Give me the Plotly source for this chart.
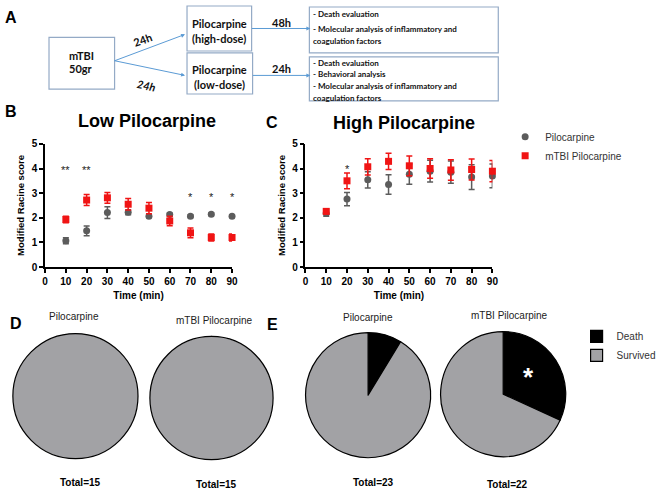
import plotly.graph_objects as go

W, H = 661, 494

# ---------------- data ----------------
time_min = [10, 20, 30, 40, 50, 60, 70, 80, 90]

low_pilo = [1.07, 1.47, 2.21, 2.22, 2.06, 2.13, 2.06, 2.14, 2.06]
low_pilo_err = [0.12, 0.2, 0.24, 0.1, 0.05, 0.05, 0.05, 0.05, 0.05]
low_mtbi = [1.93, 2.72, 2.81, 2.55, 2.39, 1.87, 1.39, 1.2, 1.2]
low_mtbi_err = [0.13, 0.22, 0.22, 0.23, 0.23, 0.19, 0.2, 0.14, 0.14]

high_pilo = [2.18, 2.76, 3.54, 3.35, 3.77, 3.89, 3.85, 3.65, 3.7]
high_pilo_err = [0.12, 0.27, 0.33, 0.4, 0.41, 0.44, 0.45, 0.5, 0.48]
high_mtbi = [2.26, 3.5, 4.07, 4.29, 4.11, 4.0, 3.94, 3.96, 3.89]
high_mtbi_err = [0.1, 0.32, 0.33, 0.33, 0.4, 0.4, 0.42, 0.43, 0.43]

low_sig2_x = [10, 20]          # "**"
low_sig1_x = [70, 80, 90]      # "*"
high_sig1_x = [20]             # "*"

pie_labels = ["Death", "Survived"]
low_pilo_surv = [0, 15]
low_mtbi_surv = [0, 15]
high_pilo_surv = [2, 21]
high_mtbi_surv = [7, 15]
pie_totals = ["Total=15", "Total=15", "Total=23", "Total=22"]
pie_titles = ["Pilocarpine", "mTBI Pilocarpine", "Pilocarpine", "mTBI Pilocarpine"]

series_names = ["Pilocarpine", "mTBI Pilocarpine"]

# ---------------- style ----------------
GREY = "#5c5c5c"
RED = "#f01414"
SURV = "#a2a2a5"
BOXC = "#94aac6"
ARROWC = "#5b9bd5"
AF = "Liberation Sans"
LF = "Lato"


def X(px):
    return px / W


def Y(py):
    return 1 - py / H


fig = go.Figure()

# ---------------- panels B & C scatter ----------------
panels = [
    ("x", "y", low_pilo, low_pilo_err, low_mtbi, low_mtbi_err, False),
    ("x2", "y2", high_pilo, high_pilo_err, high_mtbi, high_mtbi_err, True),
]
for xa, ya, pv, pe, mv, me, show in panels:
    fig.add_trace(go.Scatter(
        x=time_min, y=pv, mode="markers", name=series_names[0],
        xaxis=xa, yaxis=ya, legendgroup="p", showlegend=show, cliponaxis=False,
        marker=dict(symbol="circle", size=7, color=GREY),
        error_y=dict(type="data", array=pe, color=GREY, thickness=1.5, width=3),
    ))
    fig.add_trace(go.Scatter(
        x=time_min, y=mv, mode="markers", name=series_names[1],
        xaxis=xa, yaxis=ya, legendgroup="m", showlegend=show, cliponaxis=False,
        marker=dict(symbol="square", size=7, color=RED),
        error_y=dict(type="data", array=me, color=RED, thickness=1.5, width=3),
    ))

axis_common = dict(
    range=[0, 90], showline=True, linecolor="black", linewidth=1.5,
    ticks="outside", ticklen=4, tickwidth=1.5, tickcolor="black",
    showgrid=False, zeroline=False, dtick=10,
    tickfont=dict(family=AF, size=10, color="black", weight="bold"),
    title=dict(text="Time (min)", font=dict(family=AF, size=10, color="black", weight="bold"), standoff=6),
)
yaxis_common = dict(
    range=[0, 5], showline=True, linecolor="black", linewidth=1.5,
    ticks="outside", ticklen=4, tickwidth=1.5, tickcolor="black",
    showgrid=False, zeroline=False, dtick=1,
    tickfont=dict(family=AF, size=10, color="black", weight="bold"),
    title=dict(text="Modified Racine score", font=dict(family=AF, size=9.5, color="black", weight="bold"), standoff=5),
)

fig.update_layout(
    xaxis=dict(domain=[X(43), X(234)], anchor="y", **axis_common),
    yaxis=dict(domain=[Y(267), Y(141)], anchor="x", **yaxis_common),
    xaxis2=dict(domain=[X(309), X(500)], anchor="y2", **axis_common),
    yaxis2=dict(domain=[Y(267), Y(141)], anchor="x2", **yaxis_common),
)

ann = []


def note(s, px, py, size=10, family=AF, color="#222", weight="normal", xanchor="center", angle=0):
    ann.append(dict(x=X(px), y=Y(py), xref="paper", yref="paper", text=s, showarrow=False,
                    xanchor=xanchor, yanchor="middle", textangle=angle,
                    font=dict(family=family, size=size, color=color, weight=weight)))


for xv in low_sig2_x:
    ann.append(dict(x=xv, y=3.95, xref="x", yref="y", text="**", showarrow=False,
                    xanchor="center", yanchor="middle", font=dict(family=AF, size=11, color="#222")))
for xv in low_sig1_x:
    ann.append(dict(x=xv, y=2.84, xref="x", yref="y", text="*", showarrow=False,
                    xanchor="center", yanchor="middle", font=dict(family=AF, size=11, color="#222")))
for xv in high_sig1_x:
    ann.append(dict(x=xv, y=3.99, xref="x2", yref="y2", text="*", showarrow=False,
                    xanchor="center", yanchor="middle", font=dict(family=AF, size=11, color="#222")))

# titles B/C
note("Low Pilocarpine", 147, 118, size=18, color="black", weight="bold")
note("High Pilocarpine", 410, 120, size=18, color="black", weight="bold")

# panel letters
for lt, px, py in [("A", 8, 12), ("B", 8, 108), ("C", 275, 119), ("D", 13, 325), ("E", 275, 326)]:
    note(lt, px, py, size=16, color="black", weight="bold")

# ---------------- pies D & E ----------------
pie_data = [low_pilo_surv, low_mtbi_surv, high_pilo_surv, high_mtbi_surv]
pie_boxes = [(10, 138, 335, 463), (150, 276, 338, 464), (309, 437, 334, 462), (447, 575, 333, 461)]
pie_title_pos = [(73, 318), (216, 322), (373, 319), (517, 317)]
pie_total_pos = [(79, 487), (218, 489), (379, 487), (515, 489)]
for i, vals in enumerate(pie_data):
    x0, x1, y0, y1 = pie_boxes[i]
    fig.add_trace(go.Pie(
        labels=pie_labels, values=vals, sort=False, direction="clockwise", rotation=0,
        textinfo="none", hoverinfo="label+value",
        marker=dict(colors=["black", SURV], line=dict(color="black", width=1.2)),
        domain=dict(x=[X(x0), X(x1)], y=[Y(y1), Y(y0)]),
        showlegend=(i == 3), legend="legend2",
    ))
    tx, ty = pie_title_pos[i]
    note(pie_titles[i], tx, ty, size=10, color="#222")
    tx, ty = pie_total_pos[i]
    note(pie_totals[i], tx, ty, size=10, color="black", weight="bold")

note("*", 537, 379, size=26, color="white", weight="bold")

# ---------------- panel A flow diagram ----------------
shapes = []
boxes = [(47, 32, 114, 85), (188, 0, 254, 46), (188, 48, 255, 90), (313, 1, 506, 48), (313, 52, 506, 97)]
for (bx0, by0, bx1, by1) in boxes:
    shapes.append(dict(type="rect", xref="paper", yref="paper", x0=X(bx0), x1=X(bx1), y0=Y(by1), y1=Y(by0),
                       line=dict(color=BOXC, width=1.2), fillcolor="white", layer="below"))

note("mTBI", 80, 51, size=11, family=LF, color="#111", weight="bold")
note("50gr", 80, 64, size=11, family=LF, color="#111", weight="bold")
note("Pilocarpine", 221, 18, size=11, family=LF, color="#111", weight="bold")
note("(high-dose)", 221, 33, size=11, family=LF, color="#111", weight="bold")
note("Pilocarpine", 221, 65, size=11, family=LF, color="#111", weight="bold")
note("(low-dose)", 221, 80, size=11, family=LF, color="#111", weight="bold")
note("48h", 285, 17, size=11, family=LF, color="#111", weight="bold")
note("24h", 285, 64, size=11, family=LF, color="#111", weight="bold")
for s, py in [("- Death evaluation", 8), ("- Molecular analysis of inflammatory and", 24), ("coagulation factors", 36),
              ("- Death evaluation", 58), ("- Behavioral analysis", 70),
              ("- Molecular analysis of inflammatory and", 82), ("coagulation factors", 94)]:
    note(s, 315, py, size=8, family=LF, color="#111", weight="bold", xanchor="left")

note("24h", 143, 34, size=11, family=LF, color="#111", weight="bold", angle=-20)
note("<i>24h</i>", 147, 81, size=11, family=LF, color="#111", weight="bold", angle=12)


def arrow(x0, y0, x1, y1):
    ann.append(dict(x=X(x1), y=Y(y1), ax=x0 - x1, ay=y0 - y1, xref="paper", yref="paper",
                    axref="pixel", ayref="pixel", text="", showarrow=True,
                    arrowhead=2, arrowsize=0.8, arrowwidth=1, arrowcolor=ARROWC))


arrow(114, 56, 186, 29)
arrow(114, 56, 186, 71)
arrow(254, 23, 314, 23)
arrow(255, 71, 314, 71)

fig.update_layout(
    width=W, height=H, margin=dict(l=0, r=0, t=0, b=0),
    paper_bgcolor="white", plot_bgcolor="white",
    annotations=ann, shapes=shapes,
    legend=dict(x=X(513), y=Y(119), xanchor="left", yanchor="top", bgcolor="rgba(0,0,0,0)",
                font=dict(family=AF, size=10, color="#333"), tracegroupgap=0),
    legend2=dict(x=X(586), y=Y(323), xanchor="left", yanchor="top", bgcolor="rgba(0,0,0,0)",
                 font=dict(family=AF, size=10, color="#333"), tracegroupgap=0),
)

fig.write_html("out.html", config={"displayModeBar": False},
               post_script="document.body.style.margin='0px';")
